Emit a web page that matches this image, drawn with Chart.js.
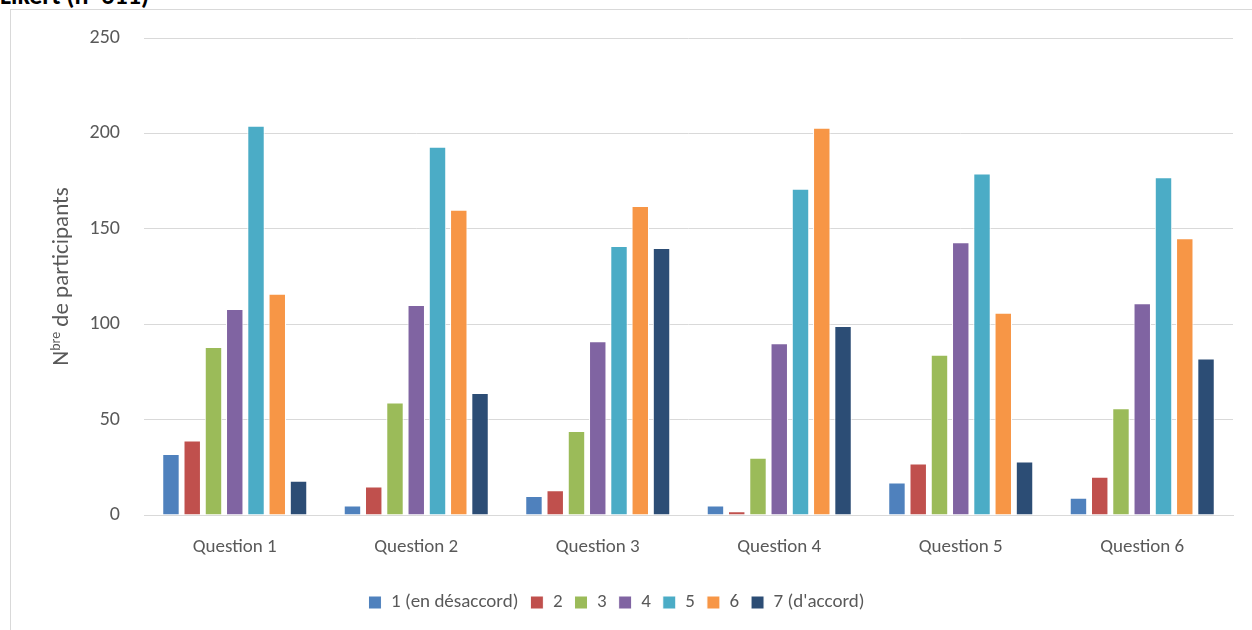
<!DOCTYPE html>
<html lang="fr">
<head>
<meta charset="utf-8">
<title>Likert (n=611)</title>
<script src="https://cdn.jsdelivr.net/npm/chart.js@4"></script>
<style>
    body { margin: 0; background: #fff; }
    #wrap { position: relative; width: 1252px; height: 630px; overflow: hidden; }
    #titre { position: absolute; left: 0; top: -18px; font: bold 26px/27px Carlito, Lato, sans-serif; color: #000; white-space: nowrap; }
    #cadre { position: absolute; left: 10px; top: 9px; width: 1300px; height: 700px; border: 1px solid #d9d9d9; box-sizing: border-box; background: #fff; }
    canvas { position: absolute; left: 0; top: 0; }
</style>
</head>
<body>
<div id="wrap">
    <div id="titre">Likert (n=611)</div>
    <div id="cadre"></div>
    <canvas id="likertChart" width="1252" height="630"></canvas>
</div>
<script>
// Catégories et séries
const questions = ["Question 1", "Question 2", "Question 3", "Question 4", "Question 5", "Question 6"];
const echelle = ["1 (en désaccord)", "2", "3", "4", "5", "6", "7 (d'accord)"];
const couleurs = ["#4F81BD", "#C0504D", "#9BBB59", "#8064A2", "#4BACC6", "#F79646", "#2C4D75"];

const rep1 = [32, 5, 10, 5, 17, 9];
const rep2 = [39, 15, 13, 2, 27, 20];
const rep3 = [88, 59, 44, 30, 84, 56];
const rep4 = [108, 110, 91, 90, 143, 111];
const rep5 = [204, 193, 141, 171, 179, 177];
const rep6 = [116, 160, 162, 203, 106, 145];
const rep7 = [18, 64, 140, 99, 28, 82];

const yTicks = [0, 50, 100, 150, 200, 250];

const series = [rep1, rep2, rep3, rep4, rep5, rep6, rep7];
const police = "Carlito, Lato, sans-serif";

// Titre vertical avec exposant "bre"
const titreAxeY = {
    id: 'titreAxeY',
    afterDraw(chart) {
        const ctx = chart.ctx;
        const area = chart.chartArea;
        const cy = (area.top + area.bottom) / 2;
        ctx.save();
        ctx.translate(62, cy);
        ctx.rotate(-Math.PI / 2);
        ctx.fillStyle = '#595959';
        ctx.textBaseline = 'middle';
        const grand = '23px ' + police;
        const petit = '14px ' + police;
        ctx.font = grand;
        const wN = ctx.measureText('N').width;
        const wReste = ctx.measureText(' de participants').width;
        ctx.font = petit;
        const wSup = ctx.measureText('bre').width;
        let x = -(wN + wSup + wReste) / 2;
        ctx.font = grand;
        ctx.textAlign = 'left';
        ctx.fillText('N', x, 0);
        x += wN;
        ctx.font = petit;
        ctx.fillText('bre', x, -6);
        x += wSup;
        ctx.font = grand;
        ctx.fillText(' de participants', x, 0);
        ctx.restore();
    }
};

const ctx = document.getElementById('likertChart').getContext('2d');
new Chart(ctx, {
    type: 'bar',
    data: {
        labels: questions,
        datasets: series.map((valeurs, i) => ({
            label: echelle[i],
            data: valeurs,
            backgroundColor: couleurs[i],
            borderColor: '#ffffff',
            borderWidth: 1,
            categoryPercentage: 0.82,
            barPercentage: 0.82
        }))
    },
    options: {
        responsive: false,
        animation: false,
        layout: { padding: { top: 38, right: 19, bottom: 8, left: 0 } },
        plugins: {
            legend: {
                position: 'bottom',
                labels: {
                    boxWidth: 13,
                    boxHeight: 13,
                    padding: 12,
                    color: '#595959',
                    font: { family: police, size: 19 }
                }
            },
            tooltip: { enabled: false }
        },
        scales: {
            x: {
                grid: { display: false, drawTicks: false },
                border: { color: '#d9d9d9', width: 1 },
                ticks: {
                    color: '#595959',
                    padding: 21,
                    font: { family: police, size: 19 }
                },
                afterFit(scale) { scale.height = 66; }
            },
            y: {
                min: 0,
                max: 250,
                grid: { color: '#d9d9d9', lineWidth: 1, drawTicks: false },
                border: { display: false },
                afterBuildTicks(scale) { scale.ticks = yTicks.map(v => ({ value: v })); },
                ticks: {
                    color: '#595959',
                    padding: 24,
                    font: { family: police, size: 20 }
                },
                afterFit(scale) { scale.width = 144; }
            }
        }
    },
    plugins: [titreAxeY]
});
</script>
</body>
</html>
